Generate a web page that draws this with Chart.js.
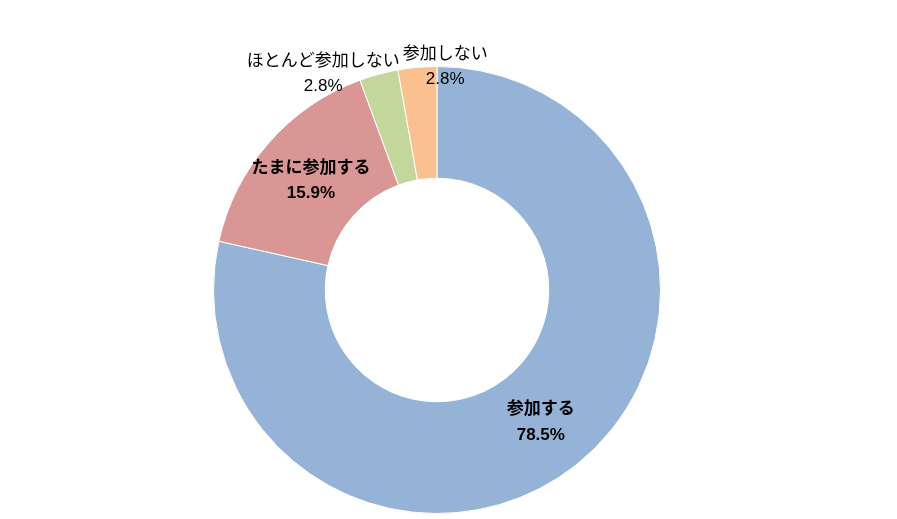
<!DOCTYPE html>
<html><head><meta charset="utf-8">
<script src="https://cdn.jsdelivr.net/npm/chart.js@4/dist/chart.umd.min.js"></script>
<style>html,body{margin:0;padding:0;background:#fff}#w{width:897px;height:519px}</style>
</head><body><div id="w"><canvas id="c"></canvas></div>
<script>
const categories = ['参加する','たまに参加する','ほとんど参加しない','参加しない'];
const values = [78.5, 15.9, 2.8, 2.8];
const valueLabels = ['78.5%','15.9%','2.8%','2.8%'];
const colors = ['#95B3D7','#D99694','#C3D69B','#FAC090'];

const labelPlugin = {
  id:'lbl',
  afterDatasetsDraw(chart){
    const ctx = chart.ctx;
    const meta = chart.getDatasetMeta(0);
    ctx.save();
    ctx.textAlign='center';ctx.textBaseline='middle';ctx.fillStyle='#000';
    meta.data.forEach((arc,i)=>{
      const a = (arc.startAngle+arc.endAngle)/2;
      const cx=arc.x, cy=arc.y;
      let x,y,bold=false;
      if(i<2){
        const r=(arc.innerRadius+arc.outerRadius)/2;
        x=cx+r*Math.cos(a); y=cy+r*Math.sin(a); bold=true;
        if(i===0){x+=-1; y+=0;}
      } else {
        const r=arc.outerRadius+2;
        y=cy+r*Math.sin(a);
        x=cx+r*Math.cos(a)+(i===2?-55:28);
      }
      ctx.font=(bold?'bold ':'')+'17px "Noto Sans CJK JP"';
      ctx.fillText(categories[i],x,y-13);
      ctx.font=(bold?'bold ':'')+'17px "Liberation Sans"';
      ctx.fillText(valueLabels[i],x,y+14);
    });
    ctx.restore();
  }
};

new Chart(document.getElementById('c'),{
  type:'doughnut',
  data:{labels:categories,datasets:[{data:values,backgroundColor:colors,borderColor:'#ffffff',borderWidth:1}]},
  options:{responsive:true,maintainAspectRatio:false,animation:false,cutout:'50%',
    layout:{padding:{left:213,right:236,top:66,bottom:5}},
    plugins:{legend:{display:false},tooltip:{enabled:false}}},
  plugins:[labelPlugin]
});
</script></body></html>
